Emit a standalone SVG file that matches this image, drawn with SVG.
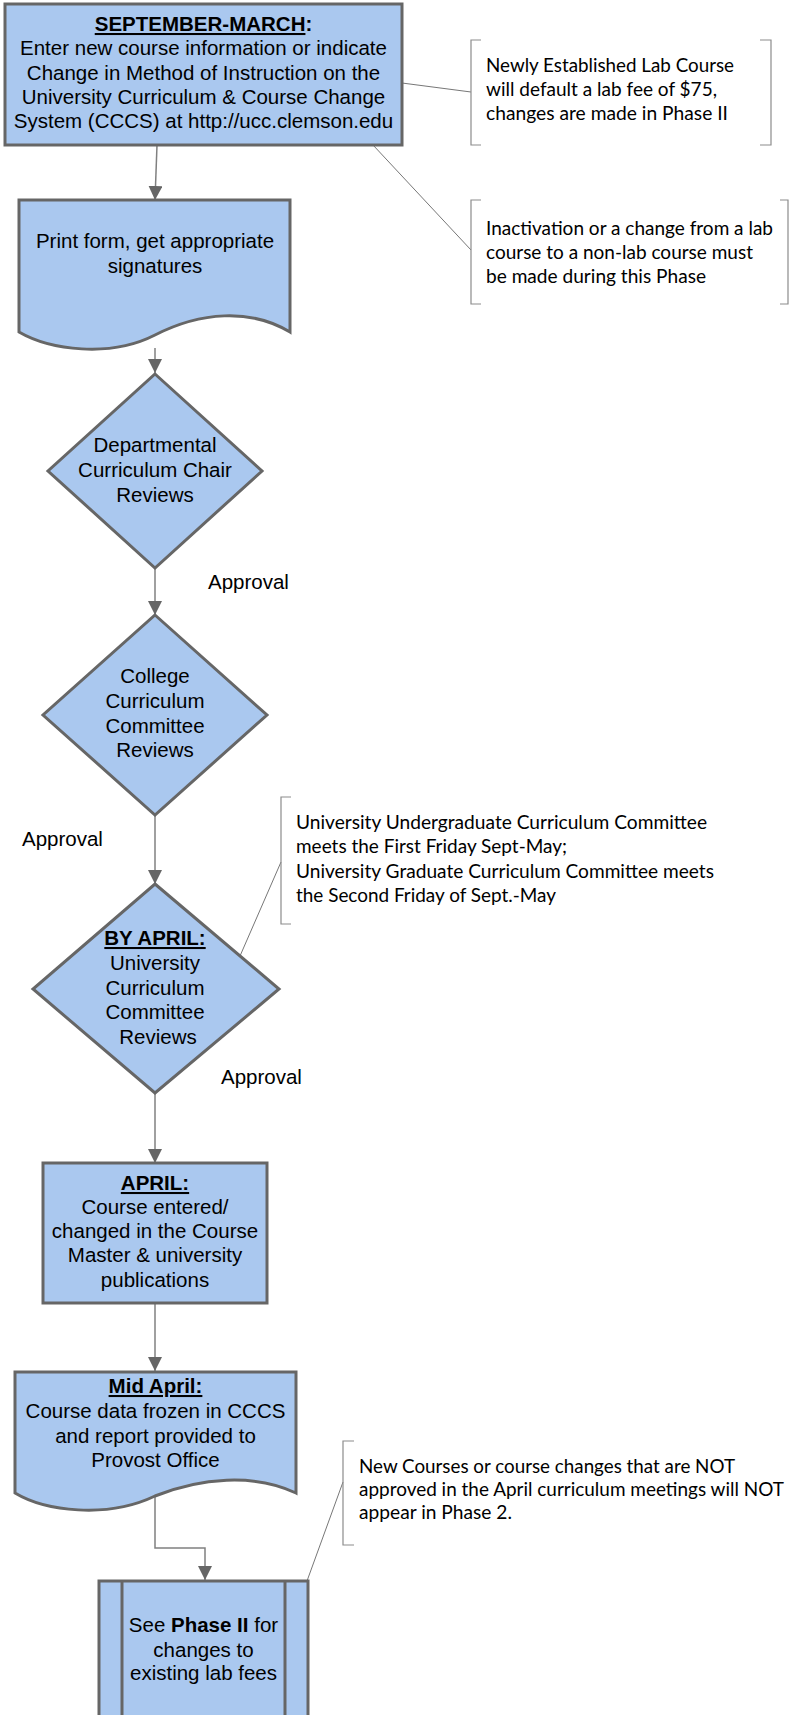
<svg xmlns="http://www.w3.org/2000/svg" width="794" height="1715" viewBox="0 0 794 1715">
<style>
.shape{fill:#aac8ef;stroke:#666666;stroke-width:3;stroke-linejoin:miter}
.t{font-family:"Liberation Sans",Arial,sans-serif;font-size:20.5px;fill:#000;text-anchor:middle}
.lbl{font-family:"Liberation Sans",Arial,sans-serif;font-size:20.5px;fill:#000}
.b{font-weight:bold}
.u{text-decoration:underline}
.note{font-family:Lato,"Open Sans",sans-serif;font-size:18.5px;fill:#000}
.flow{fill:none;stroke:#808080;stroke-width:1.5}
.lead{fill:none;stroke:#777777;stroke-width:1}
.brk{fill:none;stroke:#8c8c8c;stroke-width:1.2}
</style>
<defs>
<marker id="arr" markerUnits="userSpaceOnUse" markerWidth="15" markerHeight="15" refX="14" refY="7" orient="auto">
<path d="M0,0 L14,7 L0,14 z" fill="#666666"/>
</marker>
</defs>

<g id="connectors">
<line class="flow" x1="157" y1="145" x2="155" y2="200" marker-end="url(#arr)"/>
<line class="flow" x1="155" y1="348" x2="155" y2="373" marker-end="url(#arr)"/>
<line class="flow" x1="155" y1="568" x2="155" y2="615" marker-end="url(#arr)"/>
<line class="flow" x1="155" y1="815" x2="155" y2="884" marker-end="url(#arr)"/>
<line class="flow" x1="155" y1="1093" x2="155" y2="1163" marker-end="url(#arr)"/>
<line class="flow" x1="155" y1="1303" x2="155" y2="1371" marker-end="url(#arr)"/>
<path class="flow" d="M155,1496 V1548 H205 V1580" marker-end="url(#arr)"/>
<line class="lead" x1="402" y1="83" x2="471" y2="92"/>
<line class="lead" x1="373" y1="145" x2="471" y2="250"/>
<line class="lead" x1="240" y1="956" x2="281" y2="862"/>
<line class="lead" x1="307" y1="1581" x2="343" y2="1482"/>
</g>

<g id="n1">
<rect class="shape" x="5" y="4" width="397" height="141"/>
<text class="t" x="203.5" y="31"><tspan class="b u">SEPTEMBER-MARCH</tspan><tspan class="b">:</tspan></text>
<text class="t" x="203.5" y="55">Enter new course information or indicate</text>
<text class="t" x="203.5" y="80">Change in Method of Instruction on the</text>
<text class="t" x="203.5" y="104">University Curriculum &amp; Course Change</text>
<text class="t" x="203.5" y="128">System (CCCS) at http://ucc.clemson.edu</text>
</g>

<g id="n2">
<path class="shape" d="M19,200 H290 V332 C250,308 200,312 155,335 C110,358 50,350 19,332 Z"/>
<text class="t" x="155" y="248">Print form, get appropriate</text>
<text class="t" x="155" y="273">signatures</text>
</g>

<g id="n3">
<polygon class="shape" points="155,374 262,471 155,568 48,471"/>
<text class="t" x="155" y="452">Departmental</text>
<text class="t" x="155" y="477">Curriculum Chair</text>
<text class="t" x="155" y="502">Reviews</text>
</g>
<text class="lbl" x="208" y="589">Approval</text>

<g id="n4">
<polygon class="shape" points="155,615 267,715 155,815 43,715"/>
<text class="t" x="155" y="683">College</text>
<text class="t" x="155" y="708">Curriculum</text>
<text class="t" x="155" y="733">Committee</text>
<text class="t" x="155" y="757">Reviews</text>
</g>
<text class="lbl" x="22" y="846">Approval</text>

<g id="n5">
<polygon class="shape" points="155,884 279,989 155,1093 33,989"/>
<text class="t b u" x="155" y="945">BY APRIL:</text>
<text class="t" x="155" y="970">University</text>
<text class="t" x="155" y="995">Curriculum</text>
<text class="t" x="155" y="1019">Committee</text>
<text class="t" x="158" y="1044">Reviews</text>
</g>
<text class="lbl" x="221" y="1084">Approval</text>

<g id="n6">
<rect class="shape" x="43" y="1163" width="224" height="140"/>
<text class="t b u" x="155" y="1190">APRIL:</text>
<text class="t" x="155" y="1214">Course entered/</text>
<text class="t" x="155" y="1238">changed in the Course</text>
<text class="t" x="155" y="1262">Master &amp; university</text>
<text class="t" x="155" y="1287">publications</text>
</g>

<g id="n7">
<path class="shape" d="M15,1372 H296 V1493 C254,1473 200,1478 155,1496 C107,1519 45,1511 15,1493 Z"/>
<text class="t b u" x="155.5" y="1393">Mid April:</text>
<text class="t" x="155.5" y="1418">Course data frozen in CCCS</text>
<text class="t" x="155.5" y="1443">and report provided to</text>
<text class="t" x="155.5" y="1467">Provost Office</text>
</g>

<g id="n8">
<rect class="shape" x="99" y="1581" width="209" height="160"/>
<line x1="122" y1="1581" x2="122" y2="1741" stroke="#666666" stroke-width="3"/>
<line x1="285" y1="1581" x2="285" y2="1741" stroke="#666666" stroke-width="3"/>
<text class="t" x="203.5" y="1632">See <tspan class="b">Phase II</tspan> for</text>
<text class="t" x="203.5" y="1657">changes to</text>
<text class="t" x="203.5" y="1680">existing lab fees</text>
</g>

<g id="note1">
<path class="brk" d="M481,40 H471 V145 H481"/>
<path class="brk" d="M760,40 H771 V145 H760"/>
<text class="note" x="486" y="72" textLength="248" lengthAdjust="spacingAndGlyphs">Newly Established Lab Course</text>
<text class="note" x="486" y="96" textLength="231" lengthAdjust="spacingAndGlyphs">will default a lab fee of $75,</text>
<text class="note" x="486" y="120" textLength="242" lengthAdjust="spacingAndGlyphs">changes are made in Phase II</text>
</g>

<g id="note2">
<path class="brk" d="M481,200 H471 V304 H481"/>
<path class="brk" d="M780,200 H788 V304 H780"/>
<text class="note" x="486" y="235" textLength="287" lengthAdjust="spacingAndGlyphs">Inactivation or a change from a lab</text>
<text class="note" x="486" y="259" textLength="267" lengthAdjust="spacingAndGlyphs">course to a non-lab course must</text>
<text class="note" x="486" y="283" textLength="220" lengthAdjust="spacingAndGlyphs">be made during this Phase</text>
</g>

<g id="note3">
<path class="brk" d="M291,797 H281 V924 H291"/>
<text class="note" x="296" y="829" textLength="411" lengthAdjust="spacingAndGlyphs">University Undergraduate Curriculum Committee</text>
<text class="note" x="296" y="853" textLength="271" lengthAdjust="spacingAndGlyphs">meets the First Friday Sept-May;</text>
<text class="note" x="296" y="878" textLength="418" lengthAdjust="spacingAndGlyphs">University Graduate Curriculum Committee meets</text>
<text class="note" x="296" y="902" textLength="260" lengthAdjust="spacingAndGlyphs">the Second Friday of Sept.-May</text>
</g>

<g id="note4">
<path class="brk" d="M354,1441 H343 V1545 H354"/>
<text class="note" x="359" y="1473" textLength="376" lengthAdjust="spacingAndGlyphs">New Courses or course changes that are NOT</text>
<text class="note" x="359" y="1496" textLength="425" lengthAdjust="spacingAndGlyphs">approved in the April curriculum meetings will NOT</text>
<text class="note" x="359" y="1519" textLength="153" lengthAdjust="spacingAndGlyphs">appear in Phase 2.</text>
</g>
</svg>
